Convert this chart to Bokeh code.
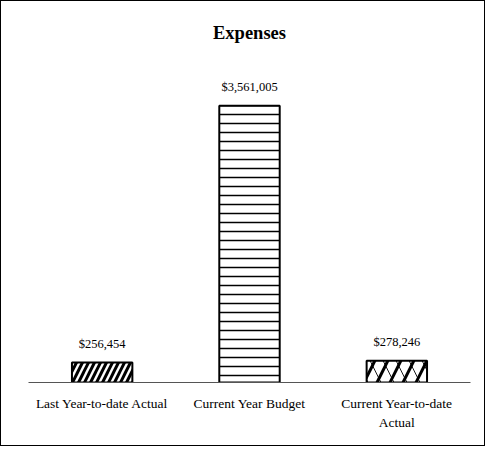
from bokeh.plotting import figure
from bokeh.models import ColumnDataSource, CategoricalAxis, CustomJSTickFormatter
from bokeh.core.properties import value
from bokeh.embed import file_html
from bokeh.resources import INLINE

categories = ["Last Year-to-date Actual", "Current Year Budget", "Current Year-to-date Actual"]
tick_line1 = ["Last Year-to-date Actual", "Current Year Budget", "Current Year-to-date"]
tick_line2 = ["", "", "Actual"]
amounts = [256454, 3561005, 278246]
amount_labels = ["$256,454", "$3,561,005", "$278,246"]
hatches = ["/", "-", "/"]
hatch_scales = [12, 9, 26]
hatch_weights = [3, 1.5, 3]
hatches2 = [" ", " ", "\\"]

src = ColumnDataSource(dict(cat=categories, val=amounts, lab=amount_labels,
                            hp=hatches, hs=hatch_scales, hw=hatch_weights, hp2=hatches2))

p = figure(x_range=categories, y_range=(0, 4130000), width=485, height=446,
           output_backend="svg", toolbar_location=None,
           min_border_left=27, min_border_right=16, min_border_top=60, min_border_bottom=65,
           title="Expenses")
p.styles = {"border": "1px solid black"}
p.title.align = "center"
p.title.text_font = "Liberation Serif"
p.title.text_font_size = "18.5px"
p.title.text_font_style = "bold"
p.title.text_color = "black"
p.title.standoff = 37

p.vbar(x="cat", top="val", width=0.41, source=src, fill_color="white",
       line_color=None, hatch_pattern="hp2", hatch_scale="hs",
       hatch_color="black", hatch_weight=0.9)
p.vbar(x="cat", top="val", width=0.41, source=src, fill_color=None,
       line_color="black", line_width=2, hatch_pattern="hp", hatch_scale="hs",
       hatch_color="black", hatch_weight="hw")

p.text(x="cat", y="val", text="lab", source=src, y_offset=-12,
       text_align="center", text_baseline="bottom",
       text_font=value("Liberation Serif"), text_font_size="12.5px", text_color="black")

p.xgrid.visible = False
p.ygrid.visible = False
p.yaxis.visible = False
p.outline_line_color = None

fmt_code = "const i = cats.indexOf(tick); return i >= 0 ? names[i] : tick;"

ax = p.xaxis[0]
ax.axis_line_color = "#555555"
ax.axis_line_width = 1
ax.major_tick_line_color = None
ax.minor_tick_line_color = None
ax.formatter = CustomJSTickFormatter(args=dict(cats=categories, names=tick_line1), code=fmt_code)
ax.major_label_text_font = "Liberation Serif"
ax.major_label_text_font_size = "13.5px"
ax.major_label_text_color = "black"
ax.major_label_standoff = 7

ax2 = CategoricalAxis(axis_line_color=None, major_tick_line_color=None,
                      minor_tick_line_color=None, major_label_standoff=-5,
                      major_label_text_font="Liberation Serif",
                      major_label_text_font_size="13.5px",
                      major_label_text_color="black",
                      formatter=CustomJSTickFormatter(args=dict(cats=categories, names=tick_line2),
                                                      code=fmt_code))
p.add_layout(ax2, "below")

open("out.html", "w").write(file_html(p, INLINE))
